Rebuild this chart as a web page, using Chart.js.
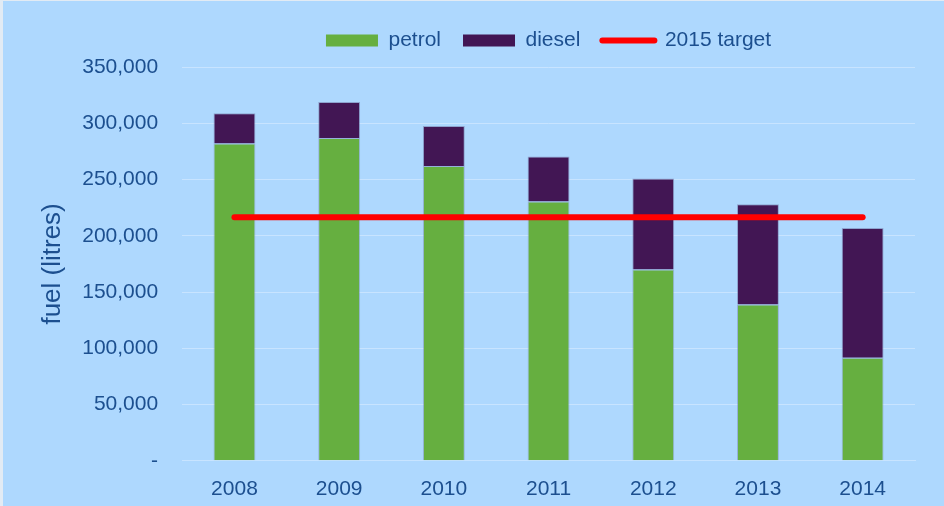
<!DOCTYPE html>
<html>
<head>
<meta charset="utf-8">
<script src="https://cdn.jsdelivr.net/npm/chart.js@4/dist/chart.umd.min.js"></script>
<style>
  html, body { margin: 0; padding: 0; background: #aed8fe; }
  .container { width: 944px; height: 506px; position: relative; }
  .container::before {
    content: ''; position: absolute; left: 0; top: 0; right: 0; bottom: 0;
    border-left: 3px solid #e2ebf4; border-top: 1px solid #e2ebf4;
    pointer-events: none;
  }
</style>
</head>
<body>
<div class="container"><canvas id="fuelChart"></canvas></div>
<script>
// Values
const years = ['2008', '2009', '2010', '2011', '2012', '2013', '2014'];
const petrol = [282000, 287000, 262000, 230500, 170000, 139000, 91500];
const diesel = [27000, 32000, 35500, 40000, 81000, 89000, 115500];
const target = [216500, 216500, 216500, 216500, 216500, 216500, 216500];
const yTicks = [0, 50000, 100000, 150000, 200000, 250000, 300000, 350000];

const textColor = '#1c4f8f';
const gridColor = '#c8e4ff';
const font = { family: "'Liberation Sans', Arial, sans-serif", size: 21 };

// centre the legend over the plot area and leave a bit more room under it
const legendOverPlot = {
  id: 'legendOverPlot',
  beforeLayout(chart) {
    const lg = chart.legend;
    if (lg && !lg._padded) {
      const fit = lg.fit.bind(lg);
      lg.fit = function () { fit(); this.height += 6; };
      lg._padded = true;
    }
  },
  afterLayout(chart) {
    chart.legend.left = chart.chartArea.left;
    chart.legend.right = chart.chartArea.right;
  }
};

const ctx = document.getElementById('fuelChart').getContext('2d');

new Chart(ctx, {
  data: {
    labels: years,
    datasets: [
      {
        type: 'line',
        label: '2015 target',
        data: target,
        borderColor: '#ff0000',
        borderWidth: 6,
        borderCapStyle: 'round',
        pointRadius: 0,
        fill: false,
        stack: 'target',
        order: 0
      },
      {
        type: 'bar',
        label: 'petrol',
        data: petrol,
        backgroundColor: '#66af40',
        borderColor: 'rgba(120,130,175,0.45)',
        borderWidth: 1,
        stack: 'fuel',
        order: 1
      },
      {
        type: 'bar',
        label: 'diesel',
        data: diesel,
        backgroundColor: '#421654',
        borderColor: 'rgba(120,130,175,0.6)',
        borderWidth: 1,
        stack: 'fuel',
        order: 1
      }
    ]
  },
  options: {
    responsive: true,
    maintainAspectRatio: false,
    animation: false,
    layout: { padding: { left: 37, right: 29, top: 8, bottom: -4 } },
    datasets: { bar: { barPercentage: 0.4, categoryPercentage: 1 } },
    plugins: {
      tooltip: { enabled: false },
      legend: {
        position: 'top',
        labels: {
          color: textColor,
          font: font,
          usePointStyle: true,
          pointStyleWidth: 52,
          boxHeight: 12,
          padding: 22,
          generateLabels(chart) {
            const ds = chart.data.datasets;
            return [
              { text: ds[1].label, fillStyle: '#66af40', strokeStyle: '#66af40', lineWidth: 0, pointStyle: 'rect', datasetIndex: 1, fontColor: textColor },
              { text: ds[2].label, fillStyle: '#421654', strokeStyle: '#421654', lineWidth: 0, pointStyle: 'rect', datasetIndex: 2, fontColor: textColor },
              { text: ds[0].label, fillStyle: '#ff0000', strokeStyle: '#ff0000', lineWidth: 6, lineCap: 'round', pointStyle: 'line', datasetIndex: 0, fontColor: textColor }
            ];
          }
        }
      }
    },
    scales: {
      x: {
        stacked: true,
        grid: { display: false },
        border: { display: true, color: gridColor, width: 1 },
        ticks: { color: textColor, font: font, padding: 8 }
      },
      y: {
        stacked: true,
        min: 0,
        max: 350000,
        afterBuildTicks(axis) {
          axis.ticks = yTicks.map(v => ({ value: v }));
        },
        grid: { color: gridColor, lineWidth: 1, drawTicks: false },
        border: { display: false },
        ticks: {
          color: textColor,
          font: font,
          padding: 24,
          callback: v => v === 0 ? '-' : v.toLocaleString('en-US')
        },
        title: {
          display: true,
          text: 'fuel (litres)',
          color: textColor,
          font: { family: font.family, size: 26 },
          padding: { top: 0, bottom: -10 }
        }
      }
    }
  },
  plugins: [legendOverPlot]
});
</script>
</body>
</html>
